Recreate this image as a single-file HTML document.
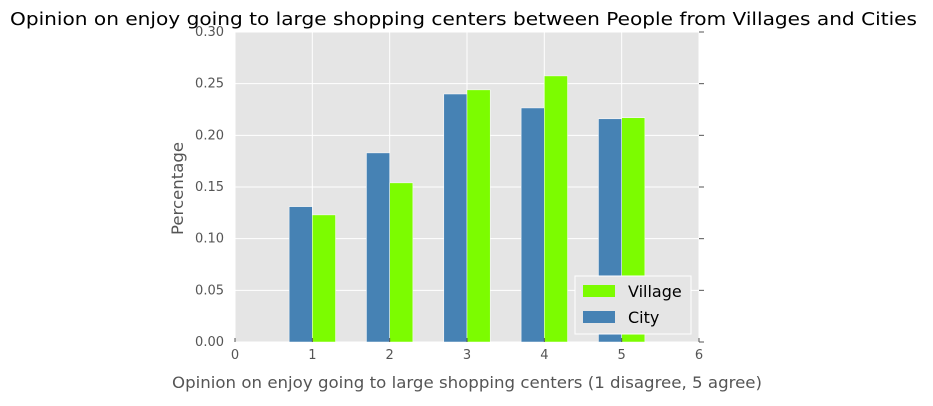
<!DOCTYPE html>
<html><head><meta charset="utf-8"><style>
body{margin:0;background:#fff;width:933px;height:402px;overflow:hidden;font-family:"DejaVu Sans","Liberation Sans",sans-serif}
</style></head><body>
<svg id="chart" width="933" height="402" xmlns="http://www.w3.org/2000/svg" font-family="DejaVu Sans, Liberation Sans, sans-serif">
<text x="10" y="25" font-size="18" textLength="907" lengthAdjust="spacingAndGlyphs" fill="#000">Opinion on enjoy going to large shopping centers between People from Villages and Cities</text>
<rect x="235" y="32" width="464" height="310" fill="#e5e5e5"/>
<g id="grid"></g><g id="bars"></g><g id="ticks"></g>
<text x="172" y="388" font-size="16" textLength="590" lengthAdjust="spacingAndGlyphs" fill="#555">Opinion on enjoy going to large shopping centers (1 disagree, 5 agree)</text>
<text transform="translate(183,235) rotate(-90)" font-size="16" textLength="93" lengthAdjust="spacingAndGlyphs" fill="#555">Percentage</text>
<g>
<rect x="575" y="276" width="116" height="58" fill="#e5e5e5" stroke="#fff" stroke-width="1"/>
<rect x="583" y="285" width="32" height="12" fill="#7cfc00"/>
<text x="628" y="297" font-size="16" fill="#000">Village</text>
<rect x="583" y="311" width="32" height="12" fill="#4682b4"/>
<text x="628" y="323" font-size="16" fill="#000">City</text>
</g>
</svg>
<script>
const categories=[1,2,3,4,5];
const cityValues=[0.131,0.183,0.240,0.2265,0.216];
const villageValues=[0.123,0.154,0.244,0.2575,0.217];
const xTicks=[0,1,2,3,4,5,6];
const yTicks=[0,0.05,0.10,0.15,0.20,0.25,0.30];
const NS="http://www.w3.org/2000/svg";
const X0=235,X1=699,Y0=342,Y1=32;
const xs=v=>X0+(v/6)*(X1-X0);
const ys=v=>Y0-(v/0.30)*(Y0-Y1);
function mk(t,a,p){const e=document.createElementNS(NS,t);for(const k in a)e.setAttribute(k,a[k]);p.appendChild(e);return e;}
const grid=document.getElementById('grid'),bars=document.getElementById('bars'),ticks=document.getElementById('ticks');
xTicks.forEach(t=>{
 const l=mk('line',{x1:xs(t),x2:xs(t),y1:Y1,y2:Y0,stroke:'#fff','stroke-width':1},grid);
 
 
 mk('line',{x1:xs(t),x2:xs(t),y1:Y0,y2:Y0-4,stroke:'#555'},ticks);
 const tx=mk('text',{x:xs(t),y:Y0+17,'text-anchor':'middle','font-size':13,fill:'#555'},ticks);
 tx.textContent=t;
 
 
});
yTicks.forEach(t=>{
 const l=mk('line',{x1:X0,x2:X1,y1:ys(t),y2:ys(t),stroke:'#fff','stroke-width':1},grid);
 
 
 mk('line',{x1:X1,x2:X1+5,y1:ys(t),y2:ys(t),stroke:'#555'},ticks);
 const tx=mk('text',{x:X0-11,y:ys(t)+4,'text-anchor':'end','font-size':13,fill:'#555'},ticks);
 tx.textContent=t.toFixed(2);
 
 
});
const w=0.3;
categories.forEach((c,i)=>{
 const b1=mk('rect',{x:xs(c-w),y:ys(cityValues[i]),width:xs(c)-xs(c-w),height:Y0-ys(cityValues[i]),fill:'#4682b4',stroke:'#fff','stroke-width':0.5},bars);
 
 
 const b2=mk('rect',{x:xs(c),y:ys(villageValues[i]),width:xs(c+w)-xs(c),height:Y0-ys(villageValues[i]),fill:'#7cfc00',stroke:'#fff','stroke-width':0.5},bars);
 
 
});
</script>
</body></html>
